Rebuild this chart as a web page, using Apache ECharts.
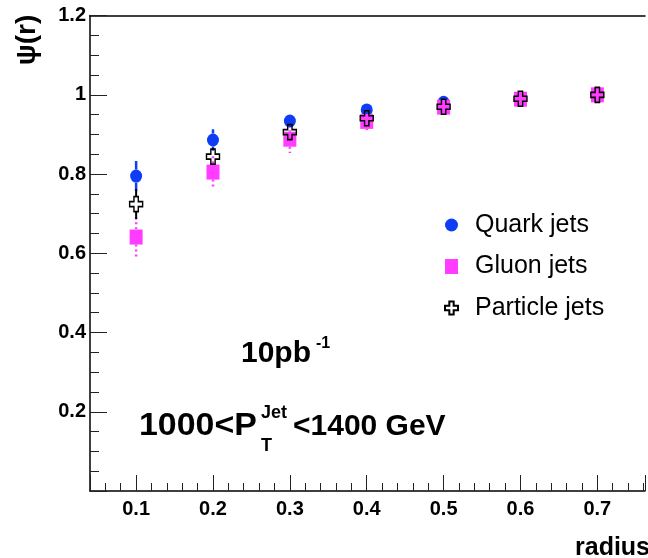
<!DOCTYPE html>
<html>
<head>
<meta charset="utf-8">
<script src="https://cdn.jsdelivr.net/npm/echarts@6/dist/echarts.min.js"></script>
<style>
  html, body { margin: 0; padding: 0; background: #fff; }
  #chart { width: 648px; height: 558px; }
</style>
</head>
<body>
<div id="chart"></div>
<script>
// Integrated jet shape psi(r) versus cone radius
const radius = [0.1, 0.2, 0.3, 0.4, 0.5, 0.6, 0.7];

const quarkPsi = [0.795, 0.886, 0.934, 0.962, 0.981, 0.992, 1.0];
const quarkErr = [0.038, 0.027, 0.012, 0.008, 0.005, 0.003, 0.0];

const gluonPsi = [0.641, 0.805, 0.888, 0.933, 0.969, 0.989, 1.0];
const gluonErr = [0.050, 0.040, 0.035, 0.022, 0.012, 0.006, 0.0];

const particlePsi = [0.724, 0.844, 0.906, 0.941, 0.970, 0.990, 1.0];
const particleErr = [0.038, 0.021, 0.014, 0.009, 0.005, 0.003, 0.0];

const seriesNames = ['Quark jets', 'Gluon jets', 'Particle jets'];

const X_MIN = 0.04, X_MAX = 0.762;

const FONT = "'Liberation Sans', Arial, Helvetica, sans-serif";
const BLUE = '#0f3df5';
const MAGENTA = '#ff3cff';
const CROSS = 'path://M4,0H8V4H12V8H8V12H4V8H0V4H4Z';

// vertical error bars, interrupted where the marker sits
function errorBars(values, errs, color, width, dash, gap) {
  return {
    type: 'custom',
    silent: true,
    encode: { x: 0, y: 1 },
    data: radius.map((r, i) => [r, values[i], errs[i]]),
    renderItem(params, api) {
      const x = api.value(0), y = api.value(1), e = api.value(2);
      const c = api.coord([x, y]);
      const hi = api.coord([x, y + e]);
      const lo = api.coord([x, y - e]);
      const style = { stroke: color, lineWidth: width, lineDash: dash, fill: null };
      const children = [];
      if (hi[1] < c[1] - gap) {
        children.push({ type: 'line', shape: { x1: c[0], y1: hi[1], x2: c[0], y2: c[1] - gap }, style });
      }
      if (lo[1] > c[1] + gap) {
        children.push({ type: 'line', shape: { x1: c[0], y1: c[1] + gap, x2: c[0], y2: lo[1] }, style });
      }
      return { type: 'group', children };
    }
  };
}

function points(name, values, symbol, size, itemStyle) {
  return {
    type: 'scatter',
    name,
    symbol,
    symbolSize: size,
    itemStyle: Object.assign({ opacity: 1 }, itemStyle),
    data: radius.map((r, i) => [r, values[i]])
  };
}

function label(text, x, y, size, valign, extra, align) {
  return Object.assign({
    type: 'text', x, y,
    style: { text, font: 'bold ' + size + 'px ' + FONT, fill: '#000', verticalAlign: valign, align: align || 'left' }
  }, extra || {});
}

const chart = echarts.init(document.getElementById('chart'), null, { renderer: 'canvas' });

chart.setOption({
  animation: false,
  backgroundColor: '#fff',
  grid: { left: 90, top: 15.6, bottom: 67, right: 0 },
  xAxis: [{
    type: 'value',
    min: X_MIN, max: X_MAX,
    splitNumber: 8,
    axisLine: { show: true, onZero: false, lineStyle: { color: '#000', width: 1.5 } },
    axisTick: { show: true, inside: true, length: 16, lineStyle: { color: '#222', width: 1 } },
    minorTick: { show: true, splitNumber: 5, length: 8, lineStyle: { color: '#222', width: 1 } },
    splitLine: { show: false },
    minorSplitLine: { show: false },
    axisLabel: {
      margin: 8,
      color: '#000', fontFamily: FONT, fontWeight: 'bold', fontSize: 20,
      formatter: v => (Math.abs(v * 10 - Math.round(v * 10)) < 1e-6 && v > 0.05 && v < 0.75) ? v.toFixed(1) : ''
    }
  }, {
    // upper edge of the frame
    type: 'value',
    position: 'top',
    min: X_MIN, max: X_MAX,
    axisLine: { show: true, onZero: false, lineStyle: { color: '#000', width: 1.5 } },
    axisTick: { show: false },
    axisLabel: { show: false },
    splitLine: { show: false }
  }],
  yAxis: {
    type: 'value',
    min: 0, max: 1.2, interval: 0.2,
    axisLine: { show: true, onZero: false, lineStyle: { color: '#000', width: 1.5 } },
    axisTick: { show: true, inside: true, length: 17, lineStyle: { color: '#222', width: 1 } },
    minorTick: { show: true, splitNumber: 4, length: 9, lineStyle: { color: '#222', width: 1 } },
    splitLine: { show: false },
    minorSplitLine: { show: false },
    axisLabel: {
      margin: 4,
      color: '#000', fontFamily: FONT, fontWeight: 'bold', fontSize: 20,
      formatter: v => (v < 1e-6 ? '' : String(+v.toFixed(1)))
    }
  },
  legend: {
    orient: 'vertical',
    left: 444, top: 210,
    padding: 0,
    itemWidth: 13, itemHeight: 15,
    itemGap: 11.5,
    selectedMode: false,
    textStyle: { fontFamily: FONT, fontSize: 25, color: '#000', lineHeight: 30, padding: [0, 0, 0, 12] },
    data: seriesNames
  },
  series: [
    errorBars(quarkPsi, quarkErr, BLUE, 2.5, null, 6.5),
    points(seriesNames[0], quarkPsi, 'circle', [12, 13], { color: BLUE }),
    errorBars(gluonPsi, gluonErr, MAGENTA, 2.5, [2, 3], 7.5),
    points(seriesNames[1], gluonPsi, 'rect', [13, 15], { color: MAGENTA }),
    errorBars(particlePsi, particleErr, '#000', 2, null, 7.5),
    points(seriesNames[2], particlePsi, CROSS, [13, 15], { color: 'rgba(255,255,255,0)', borderColor: '#000', borderWidth: 1.5 })
  ],
  graphic: [
    label('ψ(r)', 27, 40, 28, 'middle', { rotation: Math.PI / 2 }, 'center'),
    label('radius', 575, 561, 25, 'bottom'),
    label('10pb', 241, 368.5, 30, 'bottom'),
    label('-1', 316, 336, 16, 'top'),
    label('1000<P', 139, 442, 32, 'bottom', { scaleX: 1.06 }),
    label('Jet', 261, 404, 18, 'top'),
    label('T', 261, 437, 18, 'top'),
    label('<1400 GeV', 293, 442, 30, 'bottom')
  ]
});
</script>
</body>
</html>
